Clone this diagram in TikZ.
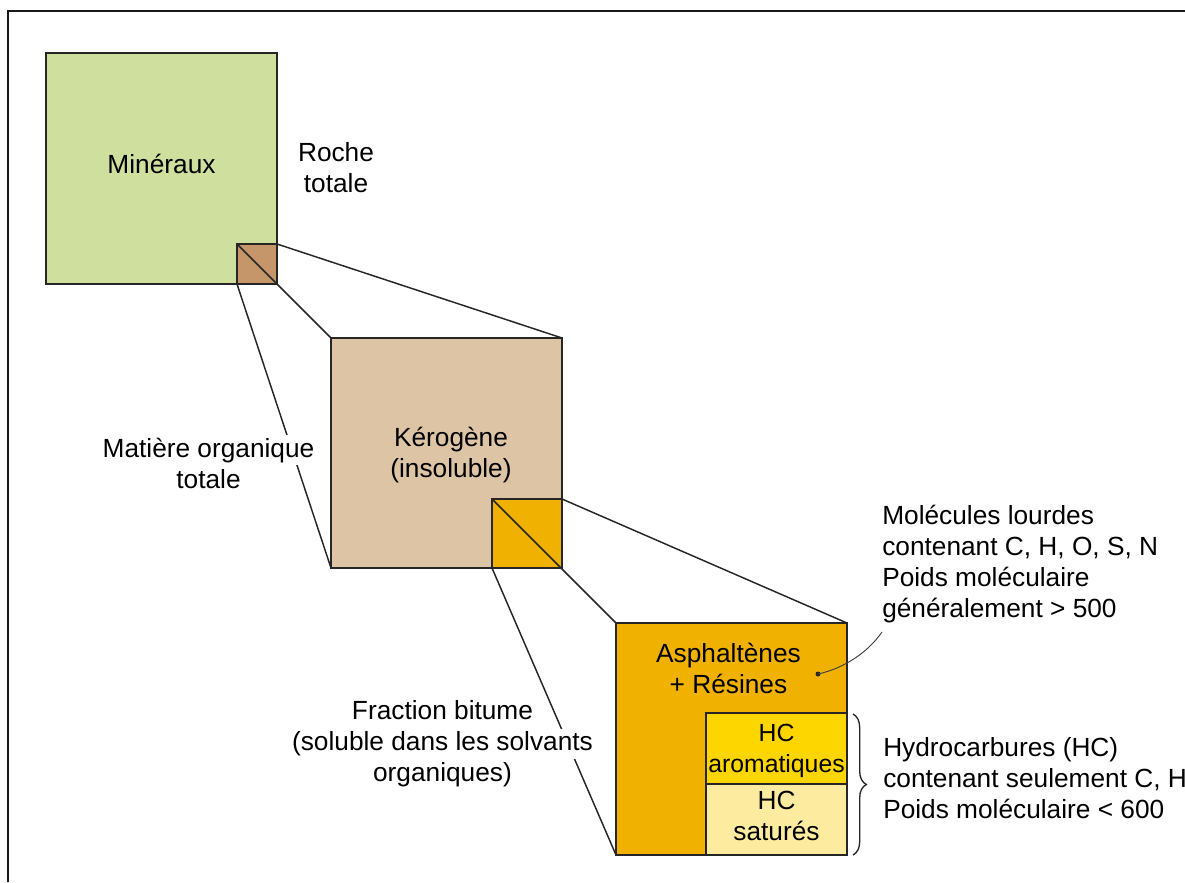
\documentclass[tikz,border=0pt]{standalone}
\usepackage{fontspec}
\setmainfont{Liberation Sans}
\usetikzlibrary{decorations.pathreplacing}
\definecolor{mineral}{RGB}{207,223,158}
\definecolor{brownsq}{RGB}{196,150,106}
\definecolor{kerogen}{RGB}{221,196,164}
\definecolor{bitumen}{RGB}{240,177,0}
\definecolor{aromat}{RGB}{253,214,0}
\definecolor{satur}{RGB}{253,236,160}
\begin{document}
\begin{tikzpicture}[x=0.75pt,y=-0.75pt,
  box/.style={draw=black!85, line width=0.8pt, inner sep=0pt, outer sep=0pt},
  txt/.style={font=\fontsize{19.7pt}{23.3pt}\selectfont, inner sep=0pt, align=center, text=black},
  zoomline/.style={line width=1.1pt, draw=black!85},
  frameline/.style={line width=1.6pt, draw=black!90},
  pointer/.style={line width=0.7pt, draw=black!75}]
\useasboundingbox (0,0) rectangle (1185,882);
\draw[frameline] (8,882) -- (8,11) -- (1185,11);
% boxes
\node[box, fill=mineral, minimum width=173.25pt, minimum height=173.25pt] (minb) at (161.5,168.5) {};
\node[box, fill=brownsq, minimum width=30pt, minimum height=30pt] (brn) at (257,264) {};
\node[box, fill=kerogen, minimum width=173.25pt, minimum height=172.5pt] (ker) at (446.5,453) {};
\node[box, fill=bitumen, minimum width=52.5pt, minimum height=51.75pt] (org) at (527,533.5) {};
\node[box, fill=bitumen, minimum width=173.25pt, minimum height=174pt] (big) at (731.5,739) {};
\node[box, fill=aromat, minimum width=105.75pt, minimum height=53.25pt] (hcA) at (776.5,748.5) {};
\node[box, fill=satur, minimum width=105.75pt, minimum height=53.25pt] (hcS) at (776.5,819.5) {};
% zoom connectors
\draw[zoomline] (brn.north east) -- (ker.north east);
\draw[zoomline] (brn.north west) -- (ker.north west);
\draw[zoomline] (brn.south west) -- (ker.south west);
\draw[zoomline] (org.north east) -- (big.north east);
\draw[zoomline] (org.north west) -- (big.north west);
\draw[zoomline] (org.south west) -- (big.south west);
% texts
\setlength{\fboxsep}{2pt}
\node[txt] (tmin) at (161.5,164) {Minéraux};
\node[txt] (troc) at (336,168) {Roche\\totale};
\node[txt] (tmo) at (208.5,463) {\vphantom{Matière organique}\smash{\colorbox{white}{Matière organique}}\\totale};
\node[txt] (tker) at (451,455) {Kérogène\\(insoluble)};
\node[txt] (tasp) at (728.5,668) {Asphaltènes\\+ Résines};
\node[txt, font=\fontsize{18.6pt}{23.3pt}\selectfont] (tar) at (776.5,751) {HC\\aromatiques};
\node[txt] (tsa) at (776.5,816) {HC\\saturés};
\node[txt] (tfb) at (442.5,744) {Fraction bitume\\\vphantom{(soluble dans les solvants}\smash{\colorbox{white}{(soluble dans les solvants}}\\organiques)};
\node[txt, anchor=west, align=left] (tmol) at (882,564) {Molécules lourdes\\contenant C, H, O, S, N\\Poids moléculaire\\généralement > 500};
\node[txt, anchor=west, align=left] (thc) at (883,778) {Hydrocarbures (HC)\\contenant seulement C, H\\Poids moléculaire < 600};
% pointer and brace
\coordinate (dot) at (818,674);
\coordinate (pend) at (882,632);
\fill[black!85] (dot) circle (2.5);
\draw[pointer] (dot) .. controls (845,668) and (868,652) .. (pend);
\coordinate (bt) at (853,714);
\coordinate (bb) at (853,855);
\draw[line width=1pt, draw=black!85, decorate, decoration={brace, amplitude=10pt}] (bt) -- (bb);
\end{tikzpicture}
\end{document}
